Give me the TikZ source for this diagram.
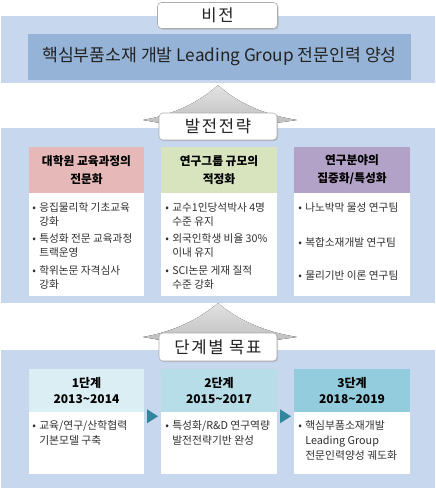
\documentclass[tikz,border=0pt]{standalone}
\usepackage{fontspec}
\setmainfont{Noto Sans CJK KR}
\usetikzlibrary{shadows,calc}
\newdimen\pxu \pxu=0.75pt
\definecolor{bandc}{HTML}{C6D7EE}
\definecolor{visc}{HTML}{95B3D7}
\definecolor{pinkc}{HTML}{E6B9B8}
\definecolor{greenc}{HTML}{D7E4BD}
\definecolor{purpc}{HTML}{B3A2C7}
\definecolor{stepa}{HTML}{DBEEF4}
\definecolor{stepb}{HTML}{B7DEE8}
\definecolor{stepc}{HTML}{93CDDD}
\definecolor{arrc}{HTML}{31859C}
\definecolor{txt}{HTML}{222222}
\definecolor{btxt}{HTML}{303030}
\newcommand\itm[2]{\makebox[7\pxu][l]{•}#1\\\hspace*{7\pxu}#2}
\newcommand\itmiii[3]{\makebox[7\pxu][l]{•}#1\\\hspace*{7\pxu}#2\\\hspace*{7\pxu}#3}
\tikzset{
  bandbox/.style={fill=bandc, inner sep=0, minimum width=434\pxu},
  tabbox/.style={draw=gray!65, fill=white, rounded corners=3pt, inner sep=0,
    minimum width=118\pxu, minimum height=27\pxu,
    drop shadow={shadow xshift=0.8pt, shadow yshift=-0.8pt, opacity=0.35},
    font=\fontsize{12.5}{15}\selectfont\addfontfeature{LetterSpace=10}, text=txt},
  roof/.style={top color=gray!22, bottom color=gray!50, draw=none},
  colhead/.style={inner sep=0, minimum width=116\pxu, minimum height=46\pxu, align=center,
    font=\fontsize{8.8}{13.5}\selectfont\bfseries, text=black},
  colbody/.style={fill=white, inner sep=0, minimum width=116\pxu, minimum height=103\pxu},
  stephead/.style={inner sep=0, minimum width=116\pxu, minimum height=43\pxu, align=center,
    font=\fontsize{9}{12}\selectfont\bfseries, text=black},
  stepbody/.style={fill=white, inner sep=0, minimum width=116\pxu, minimum height=62\pxu},
  bt/.style={anchor=north west, align=left, inner sep=0, font=\fontsize{8}{10.1}\selectfont, text=btxt},
  st/.style={anchor=north west, align=left, inner sep=0, font=\fontsize{8.1}{11.2}\selectfont, text=btxt},
  steparrow/.style={fill=arrc, draw=none}
}
\begin{document}
\begin{tikzpicture}[x=0.75pt,y=-0.75pt]
\useasboundingbox (0,0) rectangle (436,490);
% ---------- vision band ----------
\node[bandbox, minimum height=67\pxu] (band1) at (218,49.5) {};
\node[fill=visc, inner sep=0, minimum width=383\pxu, minimum height=46\pxu,
  font=\fontsize{12.9}{15}\selectfont, text=txt] (vision) at (219.5,56.5)
  {핵심부품소재 개발 Leading Group 전문인력 양성};
\node[tabbox, minimum width=120\pxu, minimum height=26\pxu] (tvision) at (217.5,15.5) {비전};
% ---------- strategy band ----------
\node[bandbox, minimum height=175\pxu] (band2) at (218,215.5) {};
\fill[roof] (143,120) .. controls (182,113) and (205,97) .. (218,85)
  .. controls (231,97) and (254,113) .. (297,120) -- (276,123) -- (160,123) -- cycle;
\node[tabbox] (tstrat) at (218,126.5) {발전전략};

\node[colhead, fill=pinkc, minimum width=115\pxu] (c1h) at (86.5,170) {대학원 교육과정의\\전문화};
\node[colhead, fill=greenc] (c2h) at (219,170) {연구그룹 규모의\\적정화};
\node[colhead, fill=purpc] (c3h) at (352,170) {연구분야의\\집중화/특성화};
\node[colbody, minimum width=115\pxu] (c1b) at (86.5,244.5) {};
\node[colbody] (c2b) at (219,244.5) {};
\node[colbody] (c3b) at (352,244.5) {};

\node[bt] (c1i1) at (32,202.5) {\itm{응집물리학 기초교육}{강화}};
\node[bt] (c1i2) at (32,233.5) {\itm{특성화 전문 교육과정}{트랙운영}};
\node[bt] (c1i3) at (32,265.5) {\itm{학위논문 자격심사}{강화}};
\node[bt] (c2i1) at (165,202.5) {\itm{교수1인당석박사 4명}{수준 유지}};
\node[bt] (c2i2) at (165,233.5) {\itm{외국인학생 비율 30\%}{이내 유지}};
\node[bt] (c2i3) at (165,265.5) {\itm{SCI논문 게재 질적}{수준 강화}};
\node[bt] (c3i1) at (298,202.5) {\makebox[7\pxu][l]{•}나노박막 물성 연구팀};
\node[bt] (c3i2) at (298,237.5) {\makebox[7\pxu][l]{•}복합소재개발 연구팀};
\node[bt] (c3i3) at (298,270.5) {\makebox[7\pxu][l]{•}물리기반 이론 연구팀};
% ---------- stage band ----------
\node[bandbox, minimum height=138\pxu] (band3) at (218,419) {};
\fill[roof] (143,337) .. controls (182,330) and (205,314) .. (218,303)
  .. controls (231,314) and (254,330) .. (297,337) -- (276,340) -- (160,340) -- cycle;
\node[tabbox, minimum height=28\pxu] (tstage) at (218,347) {단계별 목표};

\node[stephead, fill=stepa, minimum width=115\pxu] (s1h) at (86.5,390.5) {1단계\\2013\textasciitilde2014};
\node[stephead, fill=stepb] (s2h) at (219,390.5) {2단계\\2015\textasciitilde2017};
\node[stephead, fill=stepc] (s3h) at (352,390.5) {3단계\\2018\textasciitilde2019};
\node[stepbody, minimum width=115\pxu] (s1b) at (86.5,443) {};
\node[stepbody] (s2b) at (219,443) {};
\node[stepbody] (s3b) at (352,443) {};

\node[st] (s1t) at (32,420.5) {\itm{교육/연구/산학협력}{기본모델 구축}};
\node[st] (s2t) at (165,420.5) {\itm{특성화/R\&D 연구역량}{발전전략기반 완성}};
\node[st] (s3t) at (298,420.5) {\itmiii{핵심부품소재개발}{Leading Group}{전문인력양성 궤도화}};

\coordinate (a1) at ($(s1h.south east)!0.5!(s2h.south west)+(0,4)$);
\coordinate (a2) at ($(s2h.south east)!0.5!(s3h.south west)+(0,4)$);
\fill[steparrow] ($(a1)+(-5.5,-7)$) -- ($(a1)+(5.5,0)$) -- ($(a1)+(-5.5,7)$) -- cycle;
\fill[steparrow] ($(a2)+(-5.5,-7)$) -- ($(a2)+(5.5,0)$) -- ($(a2)+(-5.5,7)$) -- cycle;
\end{tikzpicture}
\end{document}
